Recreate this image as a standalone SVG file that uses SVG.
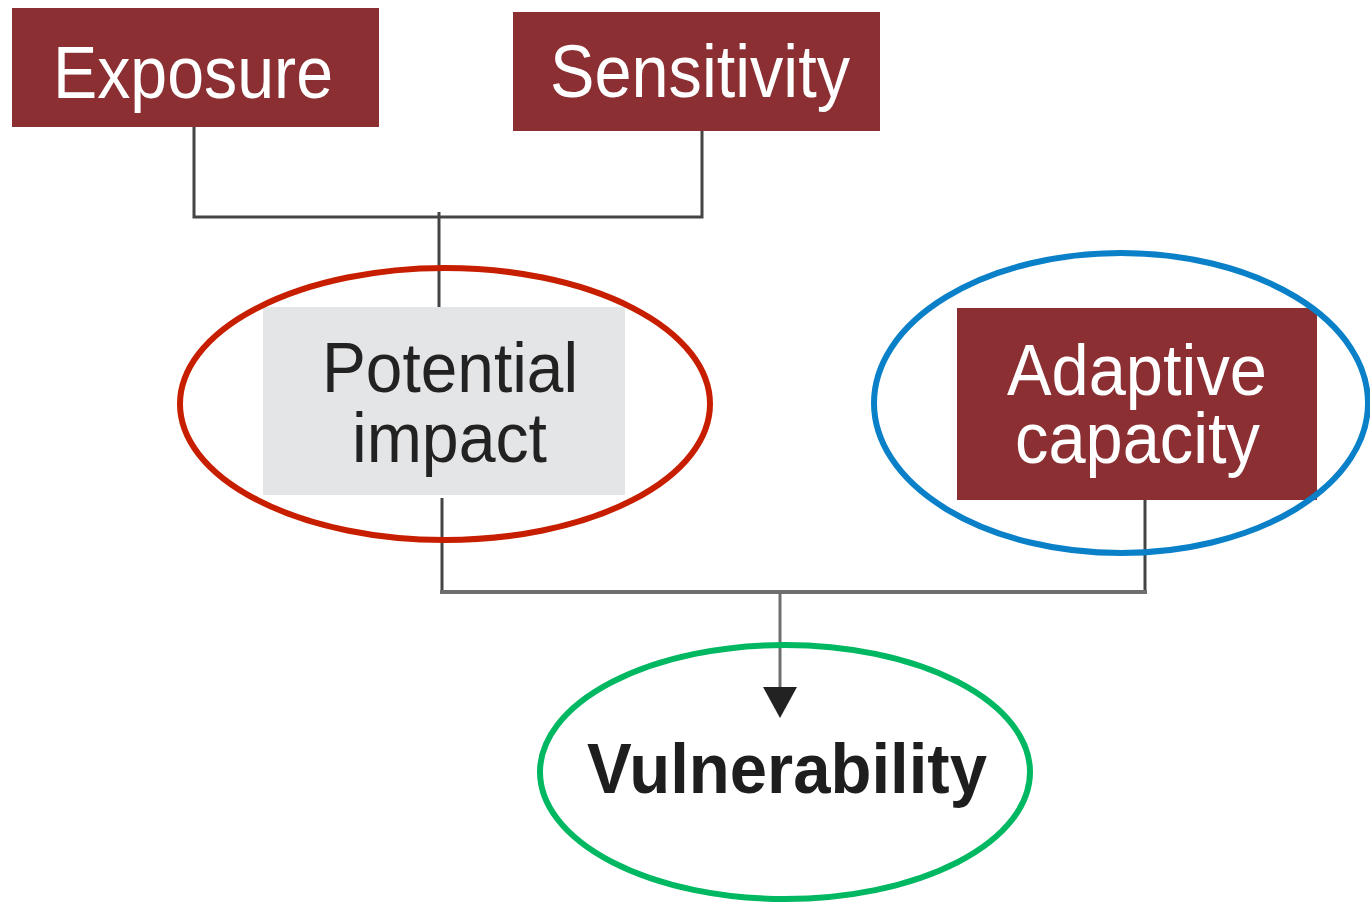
<svg xmlns="http://www.w3.org/2000/svg" width="1370" height="903" viewBox="0 0 1370 903">
  <style>
    .box { fill: #8B2F33; }
    .grey { fill: #E4E5E7; }
    .lbl { font-family: "Liberation Sans", Arial, sans-serif; text-anchor: start; }
    .white { fill: #FFFFFF; }
    .dark { fill: #222222; }
    .wire { fill: none; stroke: #444444; stroke-width: 3; }
    .wire2 { fill: none; stroke: #6E6E6E; stroke-width: 4; }
    .ring { fill: none; stroke-width: 6; }
  </style>
  <defs>
    <marker id="arrow" viewBox="0 0 10 10" refX="10" refY="5" markerWidth="10" markerHeight="10" markerUnits="userSpaceOnUse" orient="auto">
      <path d="M0,0 L10,5 L0,10 Z" fill="#222222"/>
    </marker>
  </defs>

  <rect width="1370" height="903" fill="#FFFFFF"/>

  <!-- connectors -->
  <g id="connectors">
    <polyline class="wire" points="194,127 194,217 702,217 702,131"/>
    <line class="wire" x1="439" y1="212" x2="439" y2="310"/>
    <polyline class="wire" points="442,498 442,592"/>
    <polyline class="wire" points="1145,500 1145,592"/>
    <line class="wire2" x1="440" y1="592" x2="1147" y2="592"/>
    <line x1="780" y1="592" x2="780" y2="688" stroke="#6E6E6E" stroke-width="3"/>
    <polygon points="763,687 797,687 780,718" fill="#222222"/>
  </g>

  <g id="exposure">
    <rect class="box" x="12" y="8" width="367" height="119"/>
    <text class="lbl white" x="53" y="98" font-size="75" textLength="280" lengthAdjust="spacingAndGlyphs">Exposure</text>
  </g>

  <g id="sensitivity">
    <rect class="box" x="513" y="12" width="367" height="119"/>
    <text class="lbl white" x="550" y="97" font-size="75" textLength="300" lengthAdjust="spacingAndGlyphs">Sensitivity</text>
  </g>

  <g id="potential-impact">
    <rect class="grey" x="263" y="307" width="362" height="188"/>
    <text class="lbl dark" x="322" y="392" font-size="70" textLength="256" lengthAdjust="spacingAndGlyphs">Potential</text>
    <text class="lbl dark" x="352" y="462" font-size="70" textLength="195" lengthAdjust="spacingAndGlyphs">impact</text>
  </g>

  <g id="adaptive-capacity">
    <rect class="box" x="957" y="308" width="360" height="192"/>
    <text class="lbl white" x="1007" y="395" font-size="72" textLength="260" lengthAdjust="spacingAndGlyphs">Adaptive</text>
    <text class="lbl white" x="1015" y="463" font-size="72" textLength="245" lengthAdjust="spacingAndGlyphs">capacity</text>
  </g>

  <g id="vulnerability">
    <text class="lbl" x="587" y="793" font-size="71" font-weight="bold" fill="#1E1E1E" textLength="400" lengthAdjust="spacingAndGlyphs">Vulnerability</text>
  </g>

  <!-- highlight rings -->
  <g id="rings">
    <ellipse class="ring" cx="445" cy="404" rx="265" ry="136" stroke="#C81E00"/>
    <ellipse class="ring" cx="1121" cy="403" rx="247" ry="150" stroke="#0A80C8"/>
    <ellipse class="ring" cx="785" cy="772" rx="245" ry="127" stroke="#00B862"/>
  </g>
</svg>
